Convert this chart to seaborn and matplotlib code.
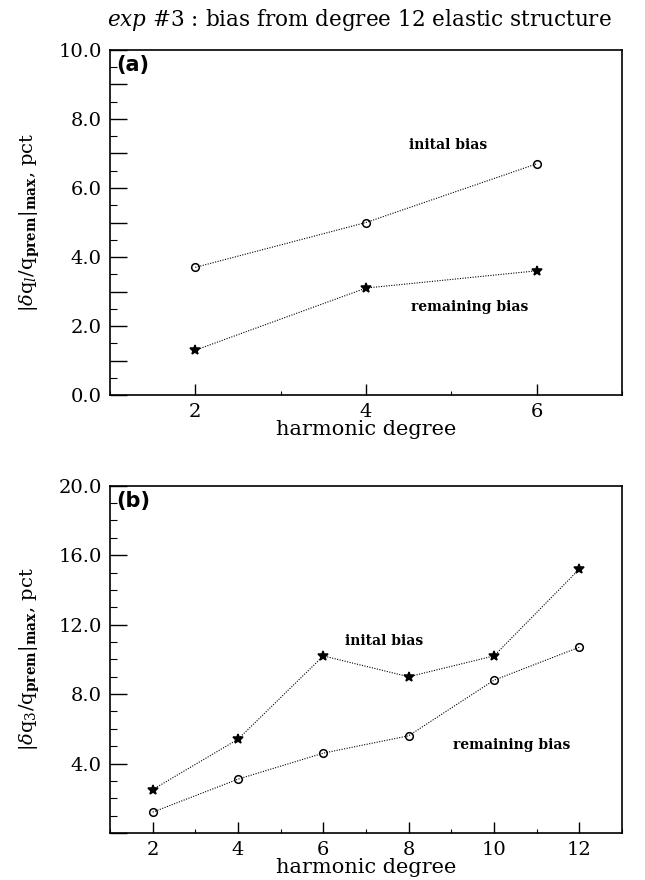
import matplotlib
matplotlib.use("Agg")
import matplotlib.pyplot as plt
from matplotlib.ticker import MultipleLocator, FuncFormatter
import numpy as np
import pandas as pd
import seaborn as sns

# ---- data ----
deg_a = [2, 4, 6]
initial_a = [3.7, 5.0, 6.7]
remaining_a = [1.3, 3.1, 3.6]

deg_b = [2, 4, 6, 8, 10, 12]
initial_b = [2.5, 5.4, 10.2, 9.0, 10.2, 15.2]
remaining_b = [1.2, 3.1, 4.6, 5.6, 8.8, 10.7]

xticks_a = [2, 4, 6]
xticks_b = [2, 4, 6, 8, 10, 12]

title = r"$exp\ \#3$ : bias from degree 12 elastic structure"

sns.set_theme(style="ticks")
plt.rcParams["font.family"] = ["DejaVu Serif"]
plt.rcParams["mathtext.fontset"] = "dejavuserif"
plt.rcParams["text.color"] = "black"
plt.rcParams["axes.labelcolor"] = "black"
plt.rcParams["xtick.color"] = "black"
plt.rcParams["ytick.color"] = "black"

fig = plt.figure(figsize=(6.45, 8.8), dpi=100)
ax_a = fig.add_axes([0.1705, 0.5511, 0.7938, 0.3921])
ax_b = fig.add_axes([0.1705, 0.0534, 0.7938, 0.3946])

line_kw = dict(color="black", linestyle=(0, (1, 1.3)), linewidth=0.8)


def draw(ax, deg, initial, remaining, init_marker, rem_marker):
    df = pd.DataFrame({"degree": deg, "initial": initial, "remaining": remaining})
    for col, mk in (("initial", init_marker), ("remaining", rem_marker)):
        face = "none" if mk == "o" else "black"
        size = 5.5 if mk == "o" else 7
        sns.lineplot(data=df, x="degree", y=col, ax=ax, marker=mk,
                     markersize=size, markerfacecolor=face,
                     markeredgecolor="black", markeredgewidth=1.1,
                     **line_kw)


draw(ax_a, deg_a, initial_a, remaining_a, "o", "*")
draw(ax_b, deg_b, initial_b, remaining_b, "*", "o")

ylab_a = r"$|\delta \mathrm{q}_{l}/\mathrm{q}_{\mathbf{prem}}|_{\mathbf{max}}$, pct"
ylab_b = r"$|\delta \mathrm{q}_{3}/\mathrm{q}_{\mathbf{prem}}|_{\mathbf{max}}$, pct"

for ax, xlim, ylim, xt, ylab in (
    (ax_a, (1, 7), (0, 10), xticks_a, ylab_a),
    (ax_b, (1, 13), (0, 20), xticks_b, ylab_b),
):
    ax.set_xlim(*xlim)
    ax.set_ylim(*ylim)
    ax.set_xticks(xt)
    ax.set_xlabel("harmonic degree", fontsize=15, labelpad=-1)
    ax.set_ylabel(ylab, fontsize=14, labelpad=12)
    ax.tick_params(axis="both", which="major", direction="in", length=12,
                   width=1.0, labelsize=14, pad=6)
    ax.tick_params(axis="both", which="minor", direction="in", length=5,
                   width=0.8)
    ax.tick_params(axis="x", which="major", length=8)
    ax.tick_params(axis="x", which="minor", length=3)
    for s in ax.spines.values():
        s.set_linewidth(1.2)
        s.set_color("black")

ax_a.yaxis.set_major_locator(MultipleLocator(1))
ax_a.yaxis.set_minor_locator(MultipleLocator(0.5))
ax_a.yaxis.set_major_formatter(
    FuncFormatter(lambda v, p: f"{v:.1f}" if round(v) % 2 == 0 else ""))
ax_a.xaxis.set_minor_locator(MultipleLocator(1))

ax_b.yaxis.set_major_locator(MultipleLocator(4))
ax_b.yaxis.set_minor_locator(MultipleLocator(1))
ax_b.yaxis.set_major_formatter(
    FuncFormatter(lambda v, p: f"{v:.1f}" if v > 0 else ""))
ax_b.xaxis.set_minor_locator(MultipleLocator(1))

# curve annotations
ax_a.text(4.5, 7.25, "inital bias", fontsize=10, fontweight="bold", ha="left", va="center")
ax_a.text(4.53, 2.56, "remaining bias", fontsize=10, fontweight="bold", ha="left", va="center")
ax_b.text(6.52, 11.05, "inital bias", fontsize=10, fontweight="bold", ha="left", va="center")
ax_b.text(9.03, 5.07, "remaining bias", fontsize=10, fontweight="bold", ha="left", va="center")

# panel tags
ax_a.text(0.012, 0.985, "(a)", transform=ax_a.transAxes, fontsize=15,
          fontweight="bold", family="DejaVu Sans", ha="left", va="top")
ax_b.text(0.012, 0.985, "(b)", transform=ax_b.transAxes, fontsize=15,
          fontweight="bold", family="DejaVu Sans", ha="left", va="top")

fig.text(0.558, 0.992, title, fontsize=15.5, ha="center", va="top")

fig.savefig("out.png", dpi=100)
